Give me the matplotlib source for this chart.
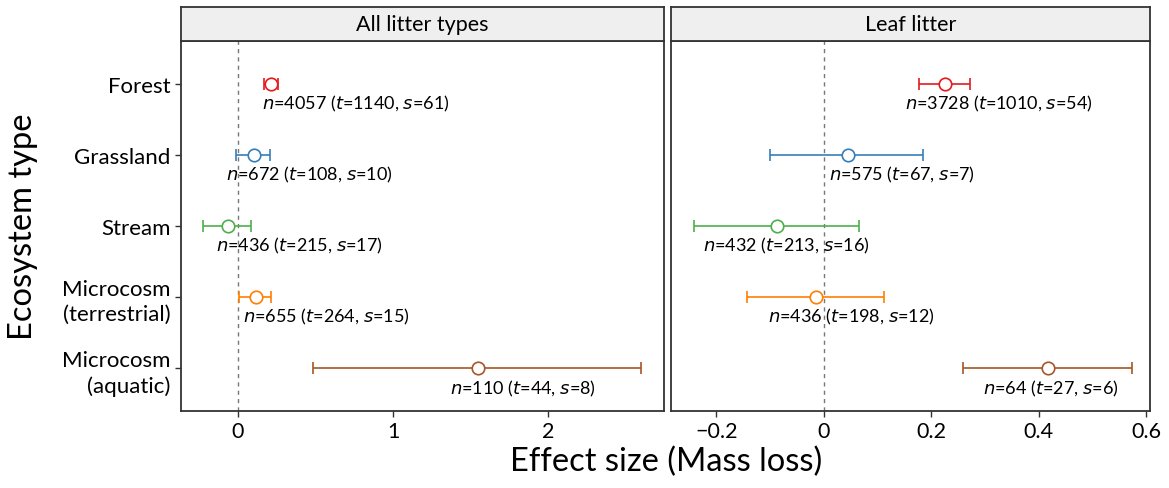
import matplotlib
matplotlib.use("Agg")
import matplotlib.pyplot as plt

plt.rcParams['font.family'] = ['Lato', 'DejaVu Sans']

# categories, top to bottom
ecosystems = ["Forest", "Grassland", "Stream", "Microcosm\n(terrestrial)", "Microcosm\n(aquatic)"]
colors = ["#E41A1C", "#377EB8", "#4DAF4A", "#FF7F00", "#A65628"]

# All litter types
all_mean = [0.211, 0.103, -0.067, 0.114, 1.546]
all_lo = [0.166, -0.013, -0.228, 0.006, 0.486]
all_hi = [0.260, 0.206, 0.084, 0.213, 2.602]
all_n = [4057, 672, 436, 655, 110]
all_t = [1140, 108, 215, 264, 44]
all_s = [61, 10, 17, 15, 8]

# Leaf litter
leaf_mean = [0.226, 0.045, -0.087, -0.014, 0.417]
leaf_lo = [0.178, -0.099, -0.241, -0.142, 0.259]
leaf_hi = [0.273, 0.185, 0.066, 0.113, 0.574]
leaf_n = [3728, 575, 432, 436, 64]
leaf_t = [1010, 67, 213, 198, 27]
leaf_s = [54, 7, 16, 12, 6]

# where the n/t/s labels start (left edge, data units)
all_lab_x = [0.153, -0.077, -0.142, 0.032, 1.368]
leaf_lab_x = [0.151, 0.010, -0.224, -0.104, 0.297]

fig = plt.figure(figsize=(11.69, 4.89), dpi=100)

W, H = 1169, 489
def box(x0, y0, x1, y1):
    return [x0 / W, 1 - y1 / H, (x1 - x0) / W, (y1 - y0) / H]

panels = [
    ("All litter types", box(181, 42, 664, 412), box(181, 8, 664, 42),
     all_mean, all_lo, all_hi, all_n, all_t, all_s, all_lab_x,
     (-0.368, 2.748), [0, 1, 2], ["0", "1", "2"]),
    ("Leaf litter", box(671, 42, 1150, 412), box(671, 8, 1150, 42),
     leaf_mean, leaf_lo, leaf_hi, leaf_n, leaf_t, leaf_s, leaf_lab_x,
     (-0.284, 0.607), [-0.2, 0, 0.2, 0.4, 0.6], ["\u22120.2", "0", "0.2", "0.4", "0.6"]),
]

ypos = list(range(1, len(ecosystems) + 1))

for i, (title, rect, srect, mean, lo, hi, n, t, s, labx, xlim, xt, xtl) in enumerate(panels):
    ax = fig.add_axes(rect)
    ax.axvline(0, color="#777777", lw=1, ls=(0, (3, 3)), zorder=1)
    for k in range(len(ecosystems)):
        y = ypos[k]
        ax.errorbar(mean[k], y, xerr=[[mean[k] - lo[k]], [hi[k] - mean[k]]],
                    fmt="o", mfc="white", mec=colors[k], ecolor=colors[k],
                    ms=9, mew=1.2, elinewidth=1.2, capsize=4, capthick=1.2, zorder=3)
        ax.text(labx[k], y + 0.27, f"$\\it{{n}}$={n[k]} ($\\it{{t}}$={t[k]}, $\\it{{s}}$={s[k]})",
                ha="left", va="center", fontsize=13, zorder=4)
    ax.set_xlim(*xlim)
    ax.set_ylim(5.6, 0.4)
    ax.set_xticks(xt)
    ax.set_xticklabels(xtl, fontsize=15.5)
    ax.set_yticks(ypos)
    ax.tick_params(axis="both", direction="out", length=4, width=1, color="#333333", labelcolor="black")
    if i == 0:
        ax.set_yticklabels(ecosystems, fontsize=16, linespacing=1.3)
    else:
        ax.set_yticklabels([])
        ax.tick_params(axis="y", length=0)
    for sp in ax.spines.values():
        sp.set_color("#333333")
        sp.set_linewidth(1.3)

    sax = fig.add_axes(srect)
    sax.set_facecolor("#EFEFEF")
    sax.set_xticks([])
    sax.set_yticks([])
    for sp in sax.spines.values():
        sp.set_color("#333333")
        sp.set_linewidth(1.3)
    sax.text(0.5, 0.5, title, ha="center", va="center", fontsize=15.5, transform=sax.transAxes)

fig.text(23 / W, 1 - 227 / H, "Ecosystem type", rotation=90, ha="center", va="center", fontsize=23.5)
fig.text(666 / W, 1 - 462 / H, "Effect size (Mass loss)", ha="center", va="center", fontsize=23.5)

fig.savefig("out.png", dpi=100)
